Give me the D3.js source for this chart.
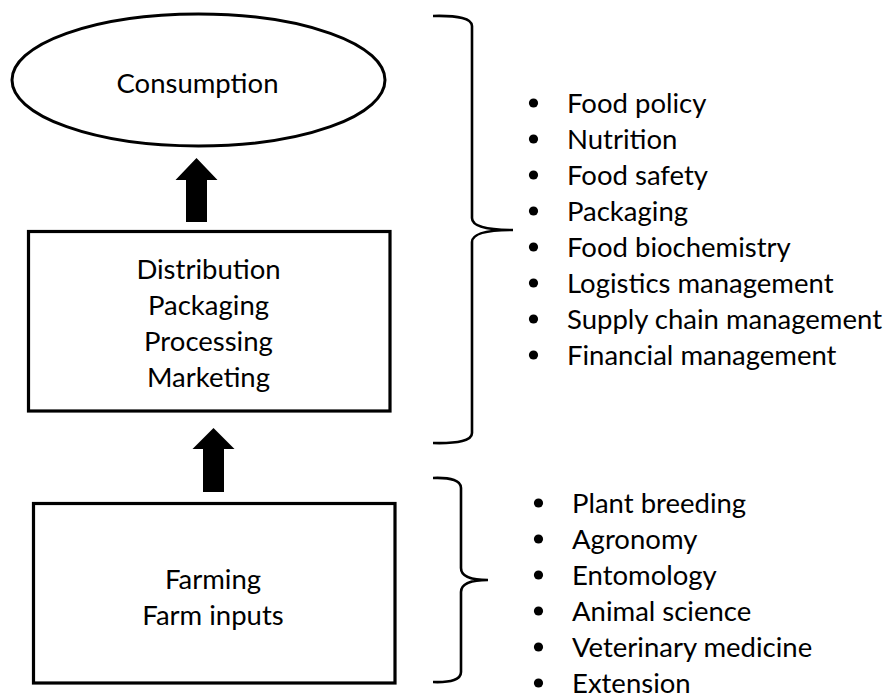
<!DOCTYPE html>
<html>
<head>
<meta charset="utf-8">
<script src="https://cdn.jsdelivr.net/npm/d3@7"></script>
<style>
  body { margin: 0; background: #fff; }
  svg { display: block; }
  text { font-family: Lato, "Open Sans", sans-serif; fill: #000; }
</style>
</head>
<body>
<svg id="chart" width="895" height="694"></svg>
<script>
// food system stages, top to bottom
const consumptionLabel = ["Consumption"];
const chainLabels = ["Distribution", "Packaging", "Processing", "Marketing"];
const farmLabels = ["Farming", "Farm inputs"];

// disciplines attached to each part of the chain
const upperTopics = ["Food policy", "Nutrition", "Food safety", "Packaging",
  "Food biochemistry", "Logistics management", "Supply chain management", "Financial management"];
const lowerTopics = ["Plant breeding", "Agronomy", "Entomology", "Animal science",
  "Veterinary medicine", "Extension"];

const svg = d3.select('#chart');
const fontSize = 27.5;
const lineGap = 36;

// ellipse for consumption
svg.append('ellipse')
  .attr('cx', 198.5).attr('cy', 80)
  .attr('rx', 186.5).attr('ry', 66)
  .attr('fill', 'none').attr('stroke', '#000').attr('stroke-width', 3);

// boxes
function box(x0, y0, x1, y1) {
  svg.append('rect')
    .attr('x', x0).attr('y', y0)
    .attr('width', x1 - x0).attr('height', y1 - y0)
    .attr('fill', 'none').attr('stroke', '#000').attr('stroke-width', 3.2);
}
box(28.5, 231.5, 390, 411);
box(33.5, 503.5, 395, 683);

// centred multi-line labels, rows laid out by a linear scale
function labelBlock(lines, cx, cy) {
  const y = d3.scaleLinear()
    .domain([0, Math.max(1, lines.length - 1)])
    .range([cy - (lines.length - 1) * lineGap / 2, cy + (lines.length - 1) * lineGap / 2]);
  svg.append('g').selectAll('text')
    .data(lines)
    .enter()
    .append('text')
    .attr('x', cx)
    .attr('y', (d, i) => y(i))
    .attr('dy', '0.35em')
    .attr('text-anchor', 'middle')
    .attr('font-size', fontSize)
    .text(d => d);
}
labelBlock(consumptionLabel, 197.5, 83);
labelBlock(chainLabels, 208.5, 323);
labelBlock(farmLabels, 213, 597);

// thick up arrows
function upArrow(cx, tipY, headY, baseY) {
  const hw = 21, sw = 10.5;
  const pts = [[cx, tipY], [cx + hw, headY], [cx + sw, headY], [cx + sw, baseY],
    [cx - sw, baseY], [cx - sw, headY], [cx - hw, headY]];
  svg.append('path')
    .attr('d', d3.line()(pts) + 'Z')
    .attr('fill', '#000');
}
upArrow(196.5, 158, 180, 222);
upArrow(213.5, 428, 449, 492);

// right-hand curly braces
function brace(xEnd, xLine, xTip, yTop, yMid, yBot) {
  const p = d3.path();
  p.moveTo(xEnd, yTop);
  p.quadraticCurveTo(xLine, yTop - 1, xLine, yTop + 10);
  p.lineTo(xLine, yMid - 12);
  p.quadraticCurveTo(xLine, yMid, xTip, yMid);
  p.quadraticCurveTo(xLine, yMid, xLine, yMid + 12);
  p.lineTo(xLine, yBot - 10);
  p.quadraticCurveTo(xLine, yBot + 1, xEnd, yBot);
  svg.append('path')
    .attr('d', p.toString())
    .attr('fill', 'none').attr('stroke', '#000').attr('stroke-width', 2.6);
}
brace(433, 472, 513, 16, 230, 443);
brace(433, 461, 488, 478, 580, 682);

// bullet lists
function bulletList(items, dotX, textX, firstY) {
  const y = d3.scaleLinear()
    .domain([0, items.length - 1])
    .range([firstY, firstY + (items.length - 1) * lineGap]);
  const g = svg.append('g');
  g.selectAll('circle')
    .data(items)
    .enter()
    .append('circle')
    .attr('cx', dotX)
    .attr('cy', (d, i) => y(i))
    .attr('r', 4.6)
    .attr('fill', '#000');
  g.selectAll('text')
    .data(items)
    .enter()
    .append('text')
    .attr('x', textX)
    .attr('y', (d, i) => y(i))
    .attr('dy', '0.35em')
    .attr('font-size', fontSize)
    .text(d => d);
}
bulletList(upperTopics, 533.5, 567, 103);
bulletList(lowerTopics, 538.5, 572, 503);
</script>
</body>
</html>
